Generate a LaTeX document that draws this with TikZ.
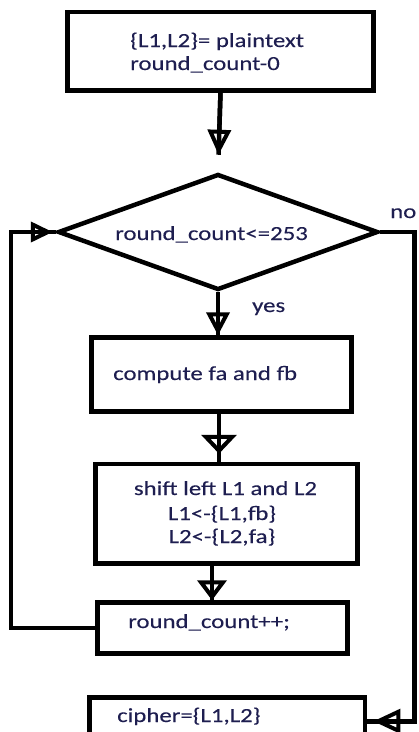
\documentclass[tikz,border=0pt]{standalone}
\usepackage{fontspec}
\newfontfamily\flowfont[FakeStretch=1.24,FakeBold=0.2]{Carlito}
\usetikzlibrary{arrows.meta,shapes.geometric}
\definecolor{ink}{RGB}{30,30,80}
\begin{document}
\begin{tikzpicture}[x=1pt,y=-1pt,
  box/.style={draw, rectangle, line width=4.5pt, inner sep=0pt},
  txt/.style={font=\flowfont\fontsize{20}{22}\selectfont, text=ink, inner sep=0pt},
  conn/.style={line width=4.5pt},
  headwl/.style 2 args={-{Triangle[open,length=#1,width=#2,line width=4pt]}}
]
\useasboundingbox (0,0) rectangle (419,732);

% boxes and the decision
\node[box, minimum width=306pt, minimum height=78.5pt] (b1) at (220.5,51) {};
\node[draw, diamond, line width=4.5pt, inner sep=0pt,
      minimum width=320pt, minimum height=116pt] (dec) at (218,232) {};
\node[box, minimum width=260pt, minimum height=74pt] (b2) at (221.5,374.5) {};
\node[box, minimum width=262pt, minimum height=99.5pt] (b3) at (226.5,513.75) {};
\node[box, minimum width=250pt, minimum height=51pt] (b4) at (222.5,628) {};
\node[box, minimum width=275.5pt, minimum height=47.5pt] (b5) at (227.25,721.25) {};

% texts
\node[txt, anchor=base west] (t1a) at (130,47) {\{L1,L2\}= plaintext};
\node[txt, anchor=base west] (t1b) at (130,70) {round\_count-0};
\node[txt, anchor=base west] (tdec) at (115,240) {round\_count<=253};
\node[txt, anchor=base west] (tno) at (390,218) {no};
\node[txt, anchor=base west] (tyes) at (252,312) {yes};
\node[txt, anchor=base west] (t2) at (113,380) {compute fa and fb};
\node[txt, anchor=base] (t3a) at (225.5,495) {shift left L1 and L2};
\node[txt, anchor=base] (t3b) at (222,520) {L1<-\{L1,fb\}};
\node[txt, anchor=base] (t3c) at (222,543) {L2<-\{L2,fa\}};
\node[txt, anchor=base west] (t4) at (128,628) {round\_count++;};
\node[txt, anchor=base west] (t5) at (117,722) {cipher=\{L1,L2\}};

% helper points of the side lines
\coordinate (lp) at (11,232);
\coordinate (rp) at (414.5,232);

% start -> decision
\draw[conn, shorten >=17pt] (b1.south) -- (dec.north);
\draw[conn, shorten >=17pt, headwl={25pt}{23pt}] (b1.south) -- (dec.north);

% yes branch
\draw[conn] (dec.south) -- (dec.south |- b2.north);
\draw[conn, headwl={23pt}{23pt}] (dec.south) -- (dec.south |- b2.north);

% compute -> shift
\draw[conn] ([xshift=-2.5pt]b2.south) -- ([xshift=-2.5pt]b2.south |- b3.north);
\draw[conn, shorten >=8pt, headwl={19pt}{35pt}] ([xshift=-2.5pt]b2.south) -- ([xshift=-2.5pt]b2.south |- b3.north);

% shift -> increment
\draw[conn] ([xshift=-14.5pt]b3.south) -- ([xshift=-10.5pt]b4.north);
\draw[conn, headwl={20pt}{29pt}] ([xshift=-14.5pt]b3.south) -- ([xshift=-10.5pt]b4.north);

% loop back to the decision
\draw[conn] (b4.west) -| (lp) -- (dec.west);
\draw[conn, shorten >=3pt, headwl={22pt}{20pt}] (lp) -- (dec.west);

% no branch
\draw[conn] (dec.east) -- (rp) |- (b5.east);
\draw[conn, shorten >=6pt, headwl={27pt}{24pt}] (rp |- b5.east) -- (b5.east);
\end{tikzpicture}
\end{document}
